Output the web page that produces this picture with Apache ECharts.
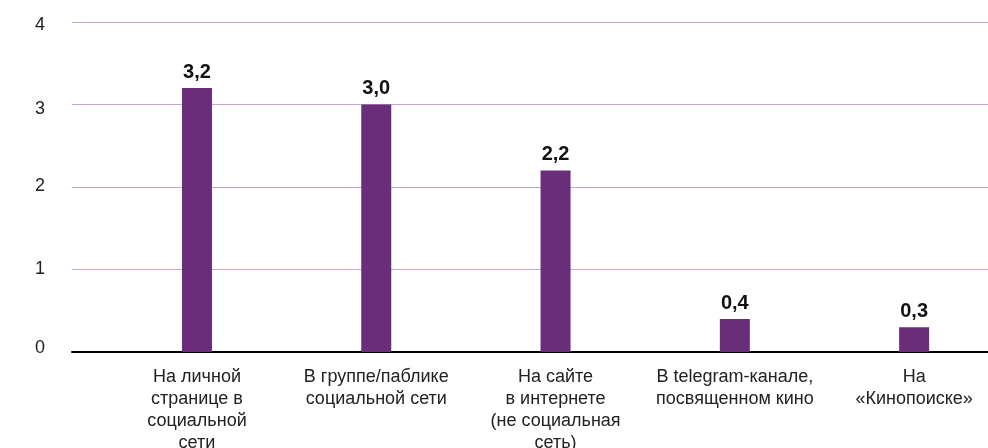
<!DOCTYPE html>
<html>
<head>
<meta charset="utf-8">
<script src="https://cdn.jsdelivr.net/npm/echarts@6/dist/echarts.min.js"></script>
<style>
  html, body { margin: 0; padding: 0; background: #fff; }
  #chart { width: 988px; height: 448px; }
</style>
</head>
<body>
<div id="chart"></div>
<script>
// Where people publish their film reviews (average score)
const categories = [
  'На личной\nстранице в\nсоциальной\nсети',
  'В группе/паблике\nсоциальной сети',
  'На сайте\nв интернете\n(не социальная\nсеть)',
  'В telegram-канале,\nпосвященном кино',
  'На\n«Кинопоиске»'
];
const values = [3.2, 3.0, 2.2, 0.4, 0.3];
const yTicks = [0, 1, 2, 3, 4];

const FONT = "'Liberation Sans', Arial, sans-serif";
const fmt = v => v.toFixed(1).replace('.', ',');

// small per-tick vertical nudges for the y labels (px, + = down)
const yNudge = { 0: -4, 1: 0, 2: -1, 3: 5, 4: 3 };
const yRich = {};
yTicks.forEach(t => {
  const n = yNudge[t] || 0;
  yRich['t' + t] = {
    fontFamily: FONT, fontSize: 18, color: '#222',
    padding: n >= 0 ? [2 * n, 0, 0, 0] : [0, 0, -2 * n, 0]
  };
});

// bars sit at integer positions 0..n-1 along a value axis
const barData = values.map((v, i) => [i, v]);

const chart = echarts.init(document.getElementById('chart'), null, { renderer: 'canvas' });
chart.setOption({
  animation: false,
  backgroundColor: '#ffffff',
  grid: { left: 72, right: 0, top: 22, height: 330, outerBoundsMode: 'none', containLabel: false },
  xAxis: {
    type: 'value', min: -0.697, max: 4.412,
    axisLine: { show: true, onZero: false, lineStyle: { color: '#000', width: 2 } },
    axisTick: { show: false },
    splitLine: { show: false },
    axisLabel: {
      customValues: categories.map((_, i) => i),
      formatter: v => categories[Math.round(v)] || '',
      margin: 14, fontFamily: FONT, fontSize: 18, lineHeight: 22,
      color: '#222', align: 'center'
    }
  },
  yAxis: {
    type: 'value', min: yTicks[0], max: yTicks[yTicks.length - 1], interval: 1,
    axisLine: { show: false }, axisTick: { show: false },
    axisLabel: {
      margin: 27,
      formatter: v => '{t' + v + '|' + v + '}',
      rich: yRich
    },
    splitLine: { lineStyle: { color: '#c6a5d4', width: 1 } }
  },
  series: [{
    type: 'bar',
    data: barData, barWidth: 30,
    itemStyle: { color: '#692d7a' },
    label: {
      show: true, position: 'top', distance: 6,
      formatter: p => fmt(p.value[1]),
      fontFamily: FONT, fontSize: 20, fontWeight: 'bold', color: '#111'
    }
  }]
});
</script>
</body>
</html>
